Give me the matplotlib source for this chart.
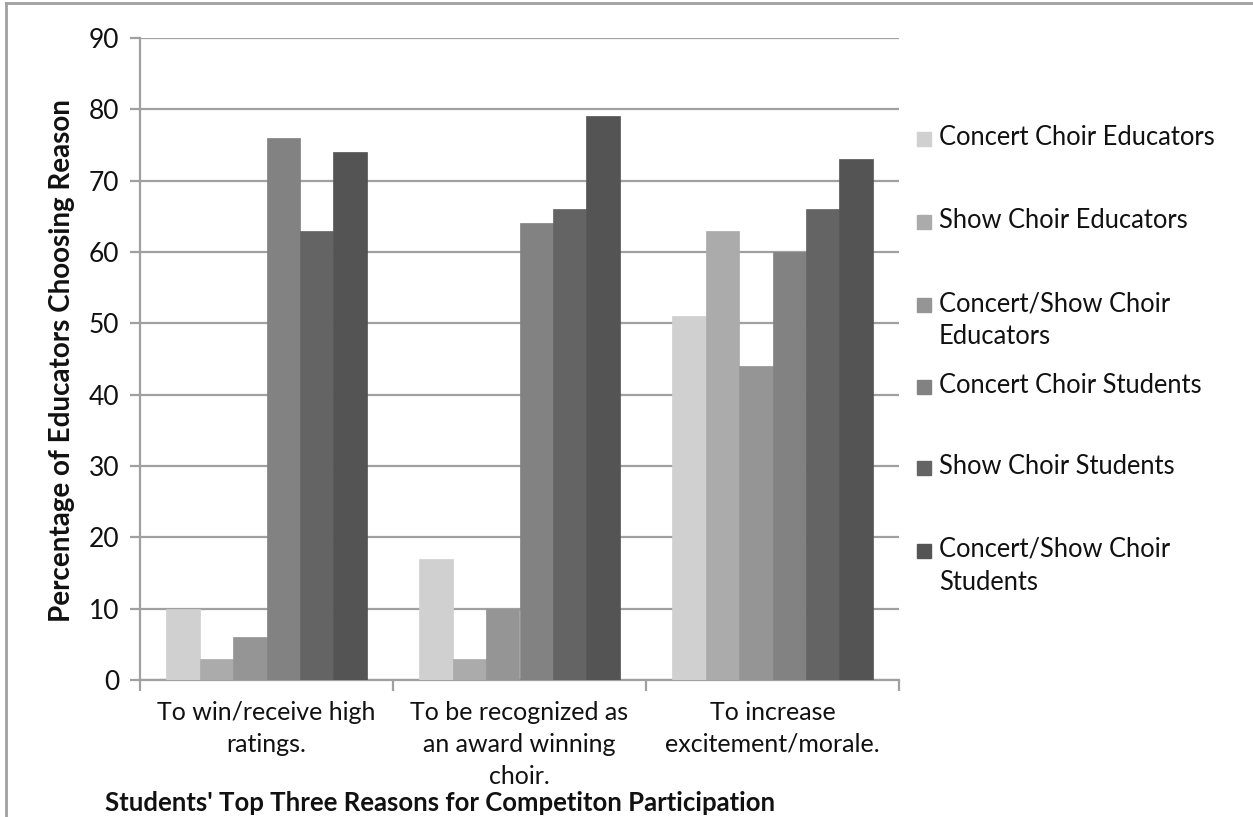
import matplotlib
matplotlib.use("Agg")
import matplotlib.pyplot as plt
from matplotlib.patches import Rectangle
from matplotlib.lines import Line2D
import numpy as np

categories = ["To win/receive high\nratings.",
              "To be recognized as\nan award winning\nchoir.",
              "To increase\nexcitement/morale."]
series_names = ["Concert Choir Educators", "Show Choir Educators",
                "Concert/Show Choir\nEducators", "Concert Choir Students",
                "Show Choir Students", "Concert/Show Choir\nStudents"]
values = [
    [10, 17, 51],   # Concert Choir Educators
    [3, 3, 63],     # Show Choir Educators
    [6, 10, 44],    # Concert/Show Choir Educators
    [76, 64, 60],   # Concert Choir Students
    [63, 66, 66],   # Show Choir Students
    [74, 79, 73],   # Concert/Show Choir Students
]
colors = ["#D0D0D0", "#ABABAB", "#959595", "#828282", "#646464", "#545454"]
yticks = [0, 10, 20, 30, 40, 50, 60, 70, 80, 90]

W, H = 1253, 817
fig = plt.figure(figsize=(W / 100, H / 100), dpi=100)
plt.rcParams['font.family'] = ['Lato', 'DejaVu Sans']

def fx(px):
    return px / W

def fy(py):
    return 1 - py / H

ax = fig.add_axes([fx(140), fy(680), fx(899) - fx(140), fy(38) - fy(680)])

grid_c = "#A0A0A0"
txt_c = "#111111"
bw = 0.132
x = np.arange(len(categories))
for j, (name, vals, c) in enumerate(zip(series_names, values, colors)):
    ax.bar(x + (j - 2.5) * bw, vals, width=bw, color=c, edgecolor=c,
           linewidth=0.5, zorder=3, label=name)

ax.set_xlim(-0.5, 2.5)
ax.set_ylim(0, 90)
ax.set_yticks(yticks)
ax.yaxis.grid(True, color=grid_c, linewidth=1.6, zorder=0)
ax.set_axisbelow(True)
for s in ["top", "right"]:
    ax.spines[s].set_visible(False)
ax.spines["left"].set_color(grid_c)
ax.spines["left"].set_linewidth(1.6)
ax.spines["bottom"].set_color(grid_c)
ax.spines["bottom"].set_linewidth(1.6)
ax.tick_params(axis="y", length=7, width=1.6, color=grid_c, labelsize=19,
               pad=8, labelcolor=txt_c)
# x ticks at category boundaries
ax.set_xticks([-0.5, 0.5, 1.5, 2.5])
ax.set_xticklabels([])
ax.tick_params(axis="x", length=8, width=1.6, color=grid_c)
for i, lab in enumerate(categories):
    ax.text(i, -3.0, lab, ha="center", va="top", fontsize=18,
            linespacing=1.45, color=txt_c, clip_on=False)

fig.text(fx(62), fy(361), "Percentage of Educators Choosing Reason",
         rotation=90, ha="center", va="center", fontsize=20,
         fontweight="bold", color=txt_c)
fig.text(fx(440), fy(803), "Students' Top Three Reasons for Competiton Participation",
         ha="center", va="center", fontsize=18.5, fontweight="bold",
         color=txt_c)

# legend (manual)
leg_y = [139, 222, 305, 387, 468, 551]
for name, c, yy in zip(series_names, colors, leg_y):
    fig.patches.append(Rectangle((fx(917), fy(yy) - 7 / H), 14 / W, 14 / H,
                                 transform=fig.transFigure, color=c))
    fig.text(fx(939), fy(yy) + 14 / H, name, ha="left", va="top",
             fontsize=18.4, linespacing=1.4, color=txt_c)

# chart frame
fig.add_artist(Line2D([fx(6), fx(6)], [0, fy(3)], transform=fig.transFigure,
                      color="#A0A0A0", linewidth=2))
fig.add_artist(Line2D([fx(6), 1], [fy(3), fy(3)], transform=fig.transFigure,
                      color="#A0A0A0", linewidth=2))

fig.savefig("out.png", dpi=100)
